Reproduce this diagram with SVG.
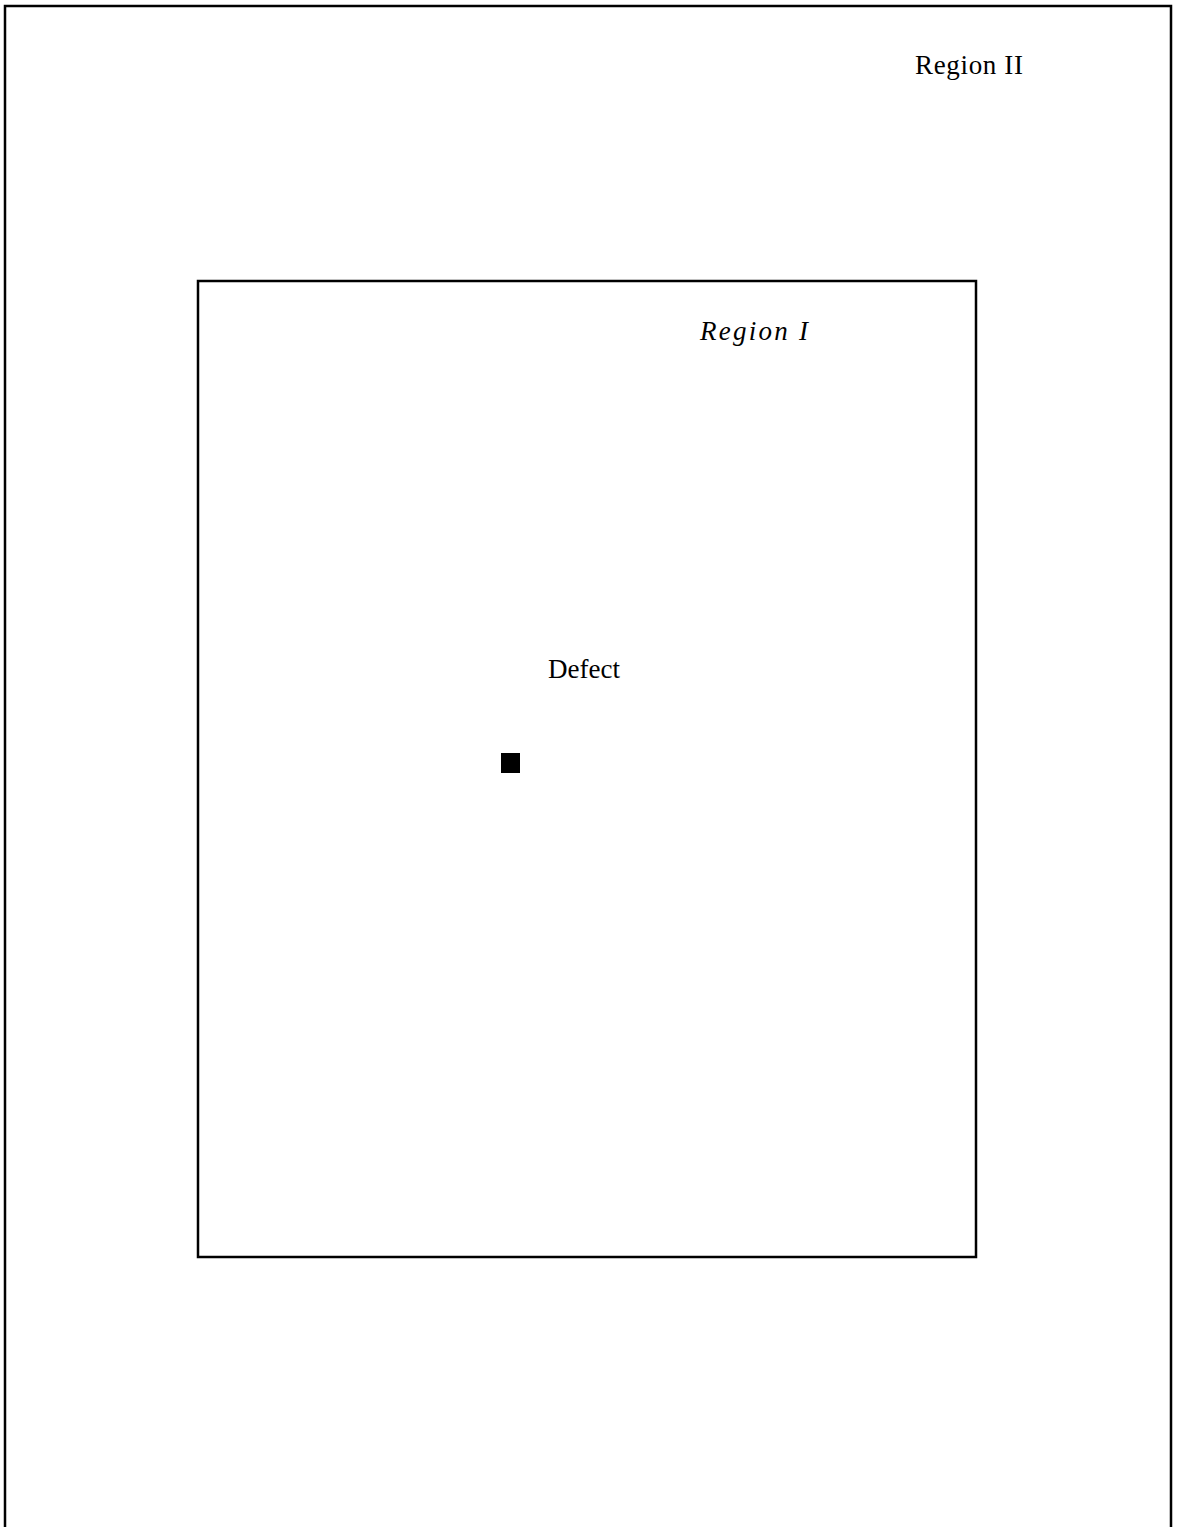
<svg xmlns="http://www.w3.org/2000/svg" width="1181" height="1527" viewBox="0 0 1181 1527">
<style>
.frame{fill:none;stroke:#000;stroke-width:2.5}
.lbl{font-family:"Liberation Serif",serif;font-size:27px;fill:#000}
</style>
<rect width="1181" height="1527" fill="#fff"/>
<g id="region2">
<path class="frame" d="M5,1527 V6 H1171 V1527"/>
<text class="lbl" x="915" y="74" textLength="108">Region II</text>
</g>
<g id="region1">
<rect class="frame" x="198" y="281" width="778" height="976"/>
<text class="lbl" x="700" y="340" font-style="italic" textLength="108">Region I</text>
</g>
<g id="defect">
<text class="lbl" x="548" y="678" font-size="26" textLength="72">Defect</text>
<rect x="501" y="753" width="19" height="20" fill="#000"/>
</g>
<g id="connectors"/>
</svg>
